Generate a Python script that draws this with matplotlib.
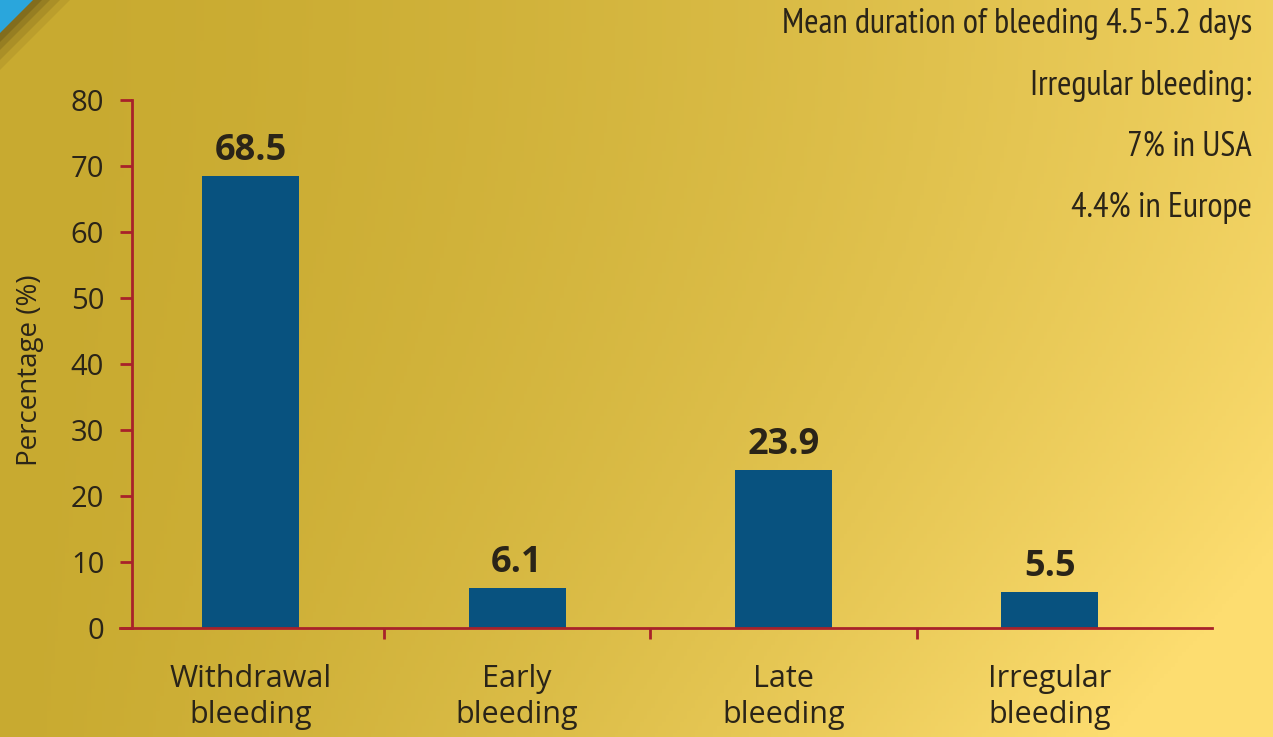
import matplotlib
matplotlib.use('Agg')
import matplotlib.pyplot as plt
import matplotlib.patches as mpatches
import numpy as np

# data
categories = ['Withdrawal\nbleeding', 'Early\nbleeding', 'Late\nbleeding', 'Irregular\nbleeding']
percentages = [68.5, 6.1, 23.9, 5.5]
y_ticks = [0, 10, 20, 30, 40, 50, 60, 70, 80]
notes = ['Mean duration of bleeding 4.5-5.2 days',
         'Irregular bleeding:',
         '7% in USA',
         '4.4% in Europe']

# colours
C_BAR = '#08527f'
C_AXIS = '#a8222a'
C_TEXT = '#2a2418'
C_DARK = np.array([200, 170, 48]) / 255
C_LIGHT = np.array([253, 221, 112]) / 255

FONT = ['Open Sans', 'DejaVu Sans']
NARROW = ['PT Sans Narrow', 'DejaVu Sans']

W, H = 1273, 737
fig = plt.figure(figsize=(W / 100, H / 100), dpi=100)

# ── background gradient (dark gold top-left -> light gold bottom-right)
bg = fig.add_axes([0, 0, 1, 1], zorder=0)
h, w = 200, 350
yy, xx = np.mgrid[0:1:h * 1j, 0:1:w * 1j]
t = np.clip(0.75 * xx ** 1.6 + 0.45 * yy ** 2 * xx, 0, 1)
img = C_DARK[None, None, :] * (1 - t[..., None]) + C_LIGHT[None, None, :] * t[..., None]
bg.imshow(img, extent=[0, 1, 0, 1], aspect='auto', origin='upper')
# blue corner with soft shadow
for k, a in zip([70, 60, 50, 42], [0.10, 0.15, 0.2, 0.25]):
    bg.add_patch(mpatches.Polygon([[0, 1], [k / W, 1], [0, 1 - k / H]], closed=True,
                                  color='#4a3c10', alpha=a, lw=0))
bg.add_patch(mpatches.Polygon([[0, 1], [33 / W, 1], [0, 1 - 33 / H]], closed=True,
                              color='#2aa6dc', lw=0))
bg.set_xlim(0, 1)
bg.set_ylim(0, 1)
bg.axis('off')

# ── main chart
ax = fig.add_axes([132 / W, 1 - 628 / H, 1080 / W, 528 / H], zorder=1)
ax.patch.set_alpha(0)
x = np.arange(len(categories))
ax.bar(x, percentages, width=0.364, color=C_BAR, zorder=2)

for xi, v in zip(x, percentages):
    ax.annotate(f'{v}', (xi, v), xytext=(0, 5), textcoords='offset points',
                ha='center', va='bottom', fontsize=26, fontweight='bold',
                color=C_TEXT, family=FONT)

ax.set_xlim(-0.445, 3.608)
ax.set_ylim(0, 80)

for s in ('top', 'right'):
    ax.spines[s].set_visible(False)
for s in ('left', 'bottom'):
    ax.spines[s].set_color(C_AXIS)
    ax.spines[s].set_linewidth(2)
ax.spines['bottom'].set_bounds(-0.49, 3.608)

ax.set_yticks(y_ticks)
ax.set_yticklabels([str(v) for v in y_ticks], fontsize=21, color=C_TEXT, family=FONT)
ax.tick_params(axis='y', direction='out', length=9, width=2, color=C_AXIS, pad=11)

# separator ticks between categories, labels at bar centres
ax.set_xticks(x[:-1] + 0.5)
ax.set_xticklabels([])
ax.tick_params(axis='x', direction='out', length=8, width=2, color=C_AXIS)
for xi, lab in zip(x, categories):
    ax.text(xi, -0.068, lab, transform=ax.get_xaxis_transform(), ha='center', va='top',
            fontsize=22, color=C_TEXT, family=FONT, linespacing=1.27)

fig.text(30 / W, 1 - 370 / H, 'Percentage (%)', rotation=90, ha='center', va='center',
         fontsize=20, color=C_TEXT, family=FONT)

# ── notes at top right
for i, line in enumerate(notes):
    fig.text(1252 / W, 1 - (33 + 61.5 * i) / H, line, ha='right', va='baseline',
             fontsize=25, color=C_TEXT, family=NARROW)

fig.savefig('out.png', dpi=100)
